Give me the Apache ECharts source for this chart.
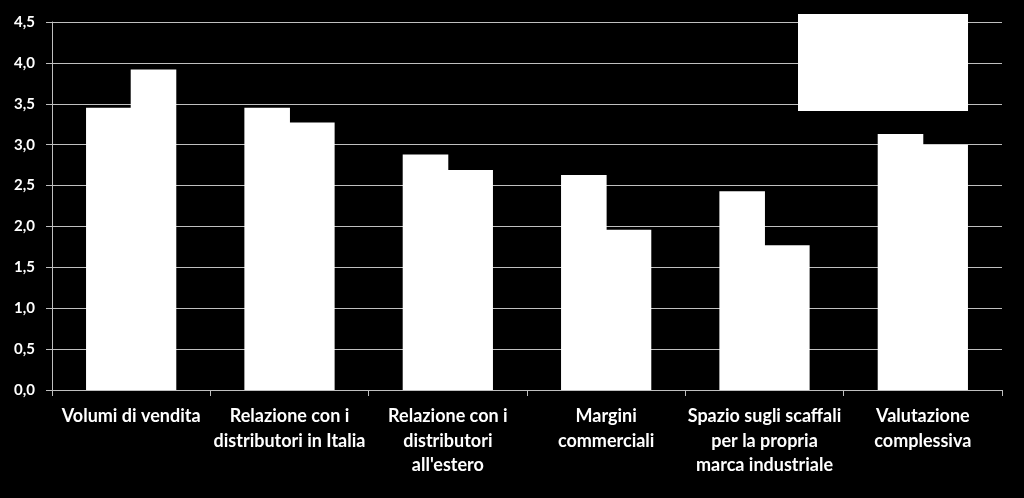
<!DOCTYPE html>
<html><head><meta charset="utf-8">
<script src="https://cdn.jsdelivr.net/npm/echarts@6/dist/echarts.min.js"></script>
<style>html,body{margin:0;padding:0;background:#000}#c{width:1024px;height:498px}</style>
</head><body><div id="c"></div>
<script>
var categories = ['Volumi di vendita', 'Relazione con i\ndistributori in Italia', "Relazione con i\ndistributori\nall'estero", 'Margini\ncommerciali', 'Spazio sugli scaffali\nper la propria\nmarca industriale', 'Valutazione\ncomplessiva'];
var seriesNames = ['Serie 1', 'Serie 2'];
var series1 = [3.45, 3.45, 2.88, 2.63, 2.43, 3.13];
var series2 = [3.92, 3.27, 2.69, 1.96, 1.77, 3.00];
var yTicks = {min: 0, max: 4.5, interval: 0.5};

var chart = echarts.init(document.getElementById('c'));
chart.setOption({
  backgroundColor: '#000',
  animation: false,
  grid: {left: 52, right: 22, top: 22, bottom: 108},
  legend: {
    orient: 'vertical', left: 798, top: 14,
    backgroundColor: '#fff', borderWidth: 0,
    padding: [29, 51, 30, 51], itemGap: 10, itemWidth: 25, itemHeight: 14,
    textStyle: {color: '#fff', fontSize: 12},
    data: seriesNames
  },
  xAxis: {
    type: 'category', data: categories,
    axisLine: {lineStyle: {color: '#bfbfbf', width: 1}},
    axisTick: {show: true, length: 6, lineStyle: {color: '#bfbfbf'}},
    axisLabel: {color: '#fff', fontFamily: 'Lato', fontWeight: 'bold', fontSize: 18, lineHeight: 24.5, margin: 14, interval: 0}
  },
  yAxis: {
    type: 'value', min: yTicks.min, max: yTicks.max, interval: yTicks.interval,
    axisLine: {show: true, lineStyle: {color: '#bfbfbf', width: 1}},
    axisTick: {show: true, length: 6, lineStyle: {color: '#bfbfbf'}},
    splitLine: {lineStyle: {color: '#bfbfbf', width: 1}},
    axisLabel: {color: '#fff', fontFamily: 'Lato', fontWeight: 'bold', fontSize: 15, margin: 17,
      formatter: function (v) { return v.toFixed(1).replace('.', ','); }}
  },
  series: [
    {name: seriesNames[0], type: 'bar', data: series1, barGap: '-2%', barCategoryGap: '43%', itemStyle: {color: '#fff'}},
    {name: seriesNames[1], type: 'bar', data: series2, barGap: '-2%', barCategoryGap: '43%', itemStyle: {color: '#fff'}}
  ]
});
</script></body></html>
